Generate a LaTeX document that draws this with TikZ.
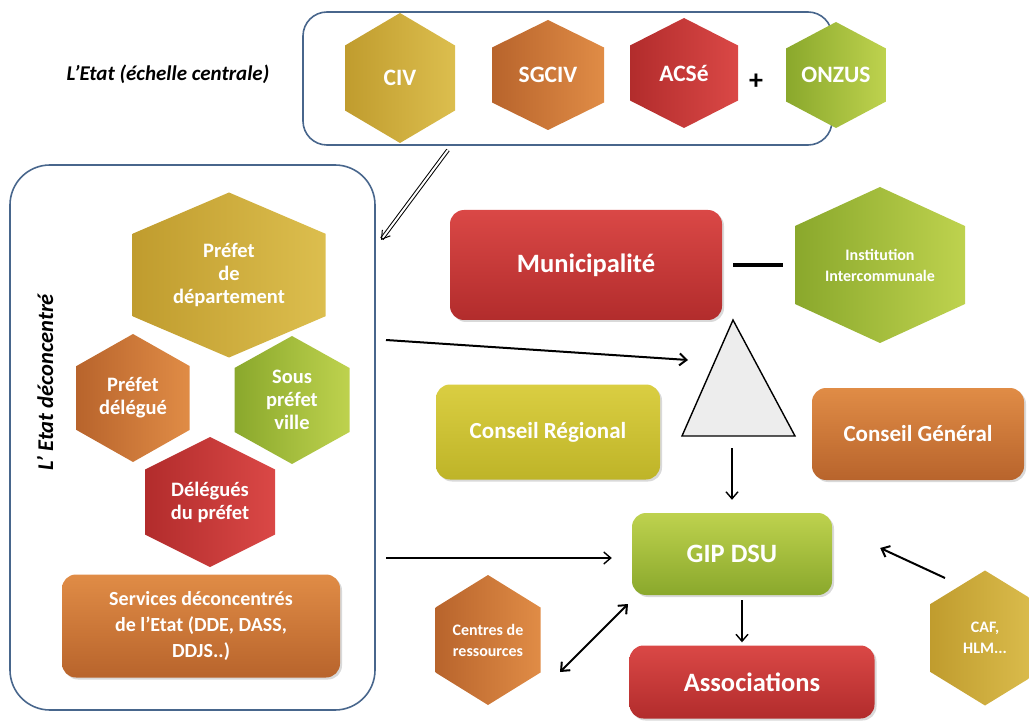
\documentclass[tikz,border=0pt]{standalone}
\usepackage{fontspec}
\setmainfont{Carlito}
\usetikzlibrary{arrows.meta,shadows}

\definecolor{framec}{RGB}{72,102,140}
\definecolor{musD}{RGB}{192,156,46}
\definecolor{musL}{RGB}{220,190,78}
\definecolor{oraD}{RGB}{184,100,44}
\definecolor{oraL}{RGB}{224,140,70}
\definecolor{redD}{RGB}{178,44,44}
\definecolor{redL}{RGB}{218,72,70}
\definecolor{grnD}{RGB}{138,168,44}
\definecolor{grnL}{RGB}{190,210,78}
\definecolor{yelD}{RGB}{190,180,40}
\definecolor{yelL}{RGB}{218,206,66}

% hexagon: [text style]{name}{x}{y}{width}{height}{fill style}{text}
\newcommand{\hexnode}[8][]{%
  \shade[#7] (#3,#4) ++(0,-#6/2) -- ++(#5/2,#6/4) -- ++(0,#6/2) -- ++(-#5/2,#6/4)
    -- ++(-#5/2,-#6/4) -- ++(0,-#6/2) -- cycle;
  \node[hextext,#1] (#2) at (#3,#4) {#8};
}

\begin{document}
\begin{tikzpicture}[x=1pt,y=-1pt,
  frame/.style={draw=framec, line width=1.6pt, rounded corners=#1, inner sep=0pt},
  caption/.style={font=\bfseries\itshape\fontsize{21}{24}\selectfont},
  hextext/.style={text=white, align=center, font=\bfseries\fontsize{20.5}{23}\selectfont},
  toptext/.style={font=\bfseries\fontsize{23.5}{26}\selectfont},
  smalltext/.style={font=\bfseries\fontsize{16}{21}\selectfont},
  hexmus/.style={left color=musD, right color=musL},
  hexora/.style={left color=oraD, right color=oraL},
  hexred/.style={left color=redD, right color=redL},
  hexgrn/.style={left color=grnD, right color=grnL},
  box/.style={rounded corners=14pt, text=white, align=center, inner sep=0pt,
    font=\bfseries\fontsize{23}{27}\selectfont,
    drop shadow={opacity=0.3, shadow xshift=2pt, shadow yshift=-2pt}},
  boxmus/.style={box, top color=musL, bottom color=musD},
  boxyel/.style={box, top color=yelL, bottom color=yelD},
  boxora/.style={box, top color=oraL, bottom color=oraD},
  boxred/.style={box, top color=redL, bottom color=redD},
  boxgrn/.style={box, top color=grnL, bottom color=grnD},
  bigtext/.style={font=\bfseries\fontsize{26.5}{30}\selectfont},
  tri/.style={draw, fill=black!7, line width=1.4pt, line join=miter}]

\useasboundingbox (0,0) rectangle (1029,722);

% frames
\node[frame=24pt, minimum width=529pt, minimum height=133pt] (topframe) at (567.5,78.5) {};
\node[frame=40pt, minimum width=365pt, minimum height=545pt] (leftframe) at (192.5,437.5) {};
\node[caption] (central) at (168,74) {L'Etat (échelle centrale)};
\node[caption, rotate=90, font=\bfseries\itshape\fontsize{22.5}{26}\selectfont] (deconc) at (45,382) {L' Etat déconcentré};

% Etat central
\hexnode[toptext]{civ}{400}{78}{110}{130}{hexmus}{CIV}
\hexnode[toptext]{sgciv}{548}{75}{112}{110}{hexora}{SGCIV}
\hexnode[toptext]{acse}{684}{73}{108}{110}{hexred}{ACSé}
\node[font=\bfseries\fontsize{28}{28}\selectfont] (plus) at (756,82) {+};
\hexnode[toptext]{onzus}{836}{75}{100}{106}{hexgrn}{ONZUS}

% Etat deconcentre
\hexnode{prefdep}{229}{275}{193}{165}{hexmus}{Préfet\\de\\département}
\hexnode{prefdel}{133}{398}{113}{128}{hexora}{Préfet\\délégué}
\hexnode{souspref}{292}{400}{115}{128}{hexgrn}{Sous\\préfet\\ville}
\hexnode{delegues}{210}{502}{130}{130}{hexred}{Délégués\\du préfet}
\node[boxora, minimum width=278pt, minimum height=103pt, font=\bfseries\fontsize{20}{26}\selectfont] (services) at (201,626)
  {Services déconcentrés\\de l'Etat (DDE, DASS,\\DDJS..)};

% collectivites
\node[boxred, bigtext, minimum width=272pt, minimum height=110pt] (muni) at (586,265) {Municipalité};
\hexnode[smalltext]{inter}{880}{265}{170}{156}{hexgrn}{Institution\\Intercommunale}
\draw[tri] (733,320) coordinate (apex) -- (795,436) coordinate (baseR) -- (682,436) coordinate (baseL) -- cycle;
\node[boxyel, minimum width=224pt, minimum height=95pt] (regional) at (548,432) {Conseil Régional};
\node[boxora, minimum width=212pt, minimum height=92pt] (general) at (918,434) {Conseil Général};

\node[boxgrn, bigtext, minimum width=200pt, minimum height=82pt] (gip) at (732,554) {GIP DSU};
\node[boxred, bigtext, minimum width=245pt, minimum height=73pt] (assoc) at (752,682) {Associations};
\hexnode[smalltext]{centres}{488}{640}{105}{130}{hexora}{Centres de\\ressources}
\hexnode[smalltext]{caf}{985}{638}{110}{135}{hexmus}{CAF,\\HLM...}

% connectors
\coordinate (c1) at (448,150);
\coordinate (c2) at (381,240);
\coordinate (c3) at (386,340);
\coordinate (c4) at (688,360);
\coordinate (c5) at (386,558);
\coordinate (c6) at (945,578);
\coordinate (c7) at (560,672);
\coordinate (c8) at (628,604);

\draw[line width=1pt, double=white, double distance=2pt, -{Straight Barb[length=8pt,width=10pt]}] (c1) -- (c2);
\begin{scope}[-{Straight Barb[length=7pt,width=12pt]}, line width=1.4pt]
  \draw[line width=2pt] (c3) -- (c4);
  \draw (c5) -- ([xshift=-20pt]gip.west |- c5);
  \draw ([yshift=-12pt]baseL -| gip.north) -- ([yshift=13pt]gip.north);
  \draw[line width=2pt] (c6) -- ([xshift=48pt,yshift=6pt]gip.east);
  \draw[{Straight Barb[length=7pt,width=12pt]}-{Straight Barb[length=7pt,width=12pt]}, line width=2pt] (c7) -- (c8);
  \draw ([xshift=10pt,yshift=-5pt]gip.south) -- ([xshift=-10pt,yshift=3pt]assoc.north);
\end{scope}
\draw[line width=3.5pt] ([xshift=11pt]muni.east) -- ([xshift=61pt]muni.east);

\end{tikzpicture}
\end{document}
